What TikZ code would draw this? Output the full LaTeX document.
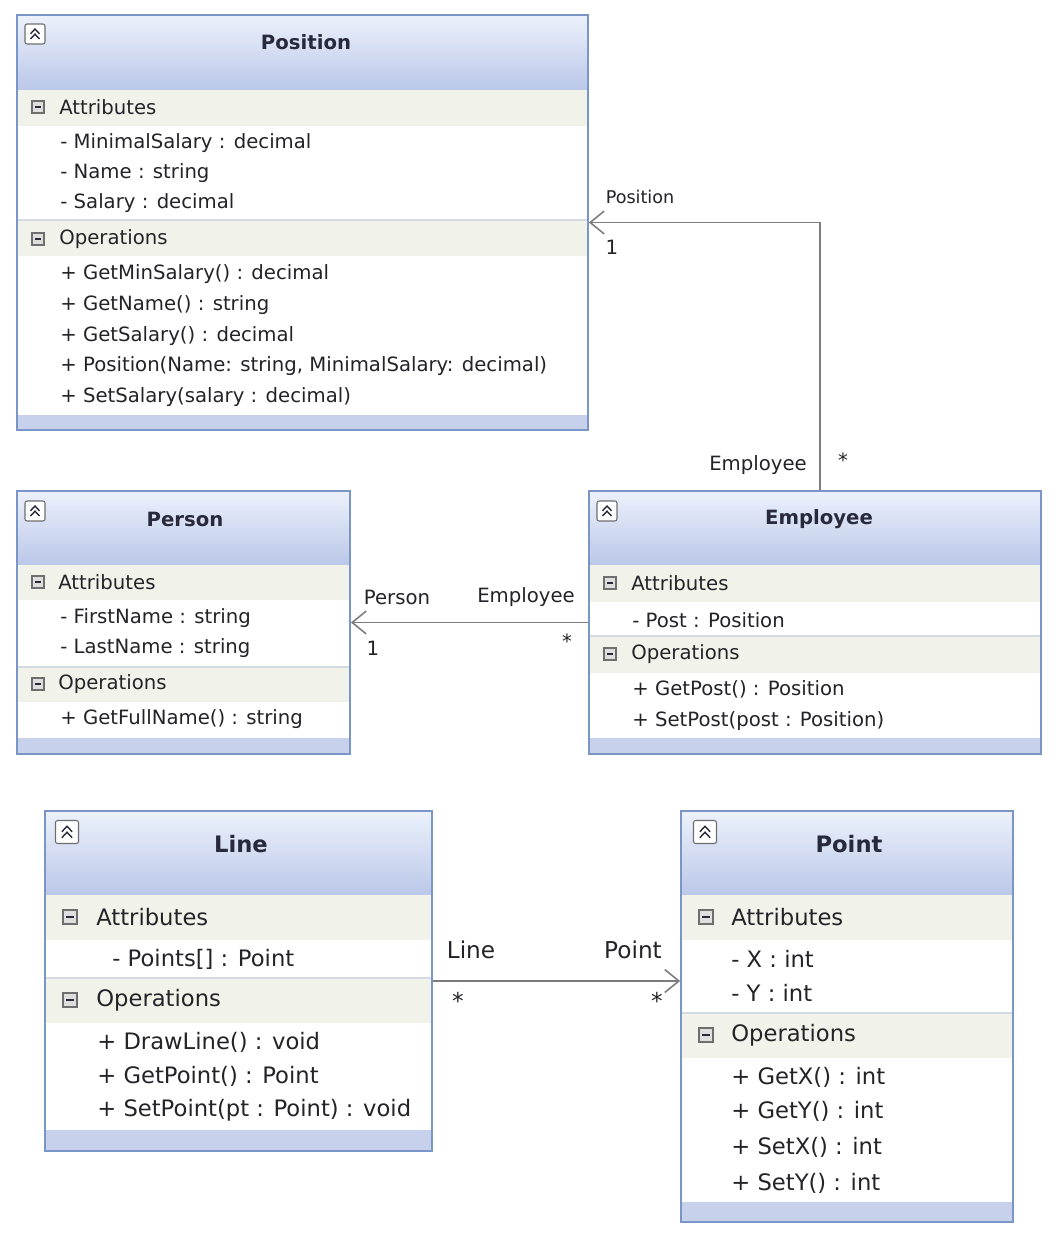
\documentclass[tikz,border=0pt]{standalone}
\usepackage{fontspec}
\setmainfont{DejaVu Sans}
\usetikzlibrary{fit,arrows.meta}

\definecolor{umlBorderColor}{RGB}{122,150,198}
\definecolor{umlHeadTopColor}{RGB}{236,241,251}
\definecolor{umlHeadBotColor}{RGB}{186,199,232}
\definecolor{umlBandColor}{RGB}{241,243,235}
\definecolor{umlFootColor}{RGB}{199,209,236}
\definecolor{umlSepColor}{RGB}{212,218,226}
\definecolor{umlTextColor}{RGB}{35,35,40}
\definecolor{umlTitleColor}{RGB}{40,42,60}
\definecolor{umlLinkColor}{RGB}{125,125,125}
\definecolor{umlIconColor}{RGB}{110,110,110}
\definecolor{umlIconFillColor}{RGB}{222,222,222}

% frame of a class: id, x1, y1, x2, y2, separator y, header, band and footer heights
\newcommand\classframe[9]{%
    \fill[top color=umlHeadTopColor, bottom color=umlHeadBotColor] (#2,#3) rectangle (#4,#3+#7);
    \fill[umlBandColor] (#2,#3+#7) rectangle (#4,#3+#7+#8);
    \fill[umlBandColor] (#2,#6) rectangle (#4,#6+#8);
    \draw[umlSepColor, line width=0.8pt] (#2,#6) -- (#4,#6);
    \fill[umlFootColor] (#2,#5-#9) rectangle (#4,#5);
    \node[classbox, fit={(#2,#3) (#4,#5)}] (#1) {};
}
% collapse button: x, y, half size
\newcommand\collapseicon[3]{%
    \draw[umlIconColor, fill=white, rounded corners=1.2pt, line width=0.6pt] (#1-#3,#2-#3) rectangle (#1+#3,#2+#3);
    \draw[umlTitleColor, line width=0.8pt] (#1-0.45*#3,#2-0.02*#3) -- (#1,#2-0.5*#3) -- (#1+0.45*#3,#2-0.02*#3);
    \draw[umlTitleColor, line width=0.8pt] (#1-0.45*#3,#2+0.5*#3) -- (#1,#2+0.02*#3) -- (#1+0.45*#3,#2+0.5*#3);
}
% section toggle: x, y, half size
\newcommand\minusicon[3]{%
    \draw[umlIconColor, fill=umlIconFillColor, line width=0.6pt] (#1-#3,#2-#3) rectangle (#1+#3,#2+#3);
    \draw[umlTitleColor, line width=0.9pt] (#1-0.55*#3,#2) -- (#1+0.55*#3,#2);
}

\begin{document}
\begin{tikzpicture}[x=0.02cm, y=-0.02cm]
    \tikzset{classbox/.style={draw=umlBorderColor, line width=1pt, inner sep=0pt},
             memberline/.style={anchor=west, inner sep=0pt, text=umlTextColor, font=\fontsize{11.2}{13}\selectfont},
             bigmemberline/.style={memberline, font=\fontsize{12.9}{15}\selectfont},
             classtitle/.style={inner sep=0pt, text=umlTitleColor, font=\bfseries\fontsize{11.2}{13}\selectfont},
             bigclasstitle/.style={classtitle, font=\bfseries\fontsize{12.9}{15}\selectfont},
             linklabel/.style={inner sep=0pt, text=umlTextColor, font=\fontsize{11.2}{13}\selectfont},
             biglinklabel/.style={linklabel, font=\fontsize{13.2}{15}\selectfont},
             assoc/.style={draw=umlLinkColor, line width=0.9pt, -{Straight Barb[length=8pt, width=13pt]}}}

    \fill[white] (0,0) rectangle (1058,1240);
    \useasboundingbox (0,0) rectangle (1058,1240);

    % Position
    \classframe{position}{17}{15}{588}{430}{220}{75}{36}{15}
    \collapseicon{35}{34}{10}
    \minusicon{38}{107}{6}
    \minusicon{38}{239}{6}
    \node[classtitle] (positionTitle) at (306,42) {Position};
    \node[memberline] (positionAttr) at (59,107) {Attributes};
    \node[memberline] (positionA1) at (60,143) {- MinimalSalary : decimal};
    \node[memberline] (positionA2) at (60,173) {- Name : string};
    \node[memberline] (positionA3) at (60,203) {- Salary : decimal};
    \node[memberline] (positionOps) at (59,239) {Operations};
    \node[memberline] (positionO1) at (60,274) {+ GetMinSalary() : decimal};
    \node[memberline] (positionO2) at (60,305) {+ GetName() : string};
    \node[memberline] (positionO3) at (60,336) {+ GetSalary() : decimal};
    \node[memberline] (positionO4) at (60,366) {+ Position(Name: string, MinimalSalary: decimal)};
    \node[memberline] (positionO5) at (60,397) {+ SetSalary(salary : decimal)};

    % Person
    \classframe{person}{17}{491}{350}{754}{667}{74}{35}{16}
    \collapseicon{35}{511}{10}
    \minusicon{38}{582}{6}
    \minusicon{38}{684}{6}
    \node[classtitle] (personTitle) at (185,519) {Person};
    \node[memberline] (personAttr) at (58,582) {Attributes};
    \node[memberline] (personA1) at (60,618) {- FirstName : string};
    \node[memberline] (personA2) at (60,648) {- LastName : string};
    \node[memberline] (personOps) at (58,684) {Operations};
    \node[memberline] (personO1) at (60,719) {+ GetFullName() : string};

    % Employee
    \classframe{employee}{589}{491}{1041}{754}{636}{74}{37}{16}
    \collapseicon{607}{511}{10}
    \minusicon{610}{583}{6}
    \minusicon{610}{654}{6}
    \node[classtitle] (employeeTitle) at (819,519) {Employee};
    \node[memberline] (employeeAttr) at (631,583) {Attributes};
    \node[memberline] (employeeA1) at (632,620) {- Post : Position};
    \node[memberline] (employeeOps) at (631,654) {Operations};
    \node[memberline] (employeeO1) at (632,689) {+ GetPost() : Position};
    \node[memberline] (employeeO2) at (632,721) {+ SetPost(post : Position)};

    % Line
    \classframe{line}{45}{811}{432}{1151}{978}{84}{45}{21}
    \collapseicon{67}{832}{11.5}
    \minusicon{70}{917}{7}
    \minusicon{70}{1000}{7}
    \node[bigclasstitle] (lineTitle) at (241,844) {Line};
    \node[bigmemberline] (lineAttr) at (96,917) {Attributes};
    \node[bigmemberline] (lineA1) at (112,959) {- Points[] : Point};
    \node[bigmemberline] (lineOps) at (96,1000) {Operations};
    \node[bigmemberline] (lineO1) at (97,1042) {+ DrawLine() : void};
    \node[bigmemberline] (lineO2) at (97,1076) {+ GetPoint() : Point};
    \node[bigmemberline] (lineO3) at (97,1110) {+ SetPoint(pt : Point) : void};

    % Point
    \classframe{point}{681}{811}{1013}{1222}{1013}{84}{45}{20}
    \collapseicon{705}{832}{11.5}
    \minusicon{706}{917}{7}
    \minusicon{706}{1035}{7}
    \node[bigclasstitle] (pointTitle) at (849,844) {Point};
    \node[bigmemberline] (pointAttr) at (731,917) {Attributes};
    \node[bigmemberline] (pointA1) at (731,959) {- X : int};
    \node[bigmemberline] (pointA2) at (731,993) {- Y : int};
    \node[bigmemberline] (pointOps) at (731,1035) {Operations};
    \node[bigmemberline] (pointO1) at (731,1077) {+ GetX() : int};
    \node[bigmemberline] (pointO2) at (731,1111) {+ GetY() : int};
    \node[bigmemberline] (pointO3) at (731,1147) {+ SetX() : int};
    \node[bigmemberline] (pointO4) at (731,1183) {+ SetY() : int};

    % associations
    \draw[assoc] ([xshift=0.1cm]employee.north) |- (position.east);
    \draw[assoc] (employee.west) -- (person.east);
    \draw[assoc] (line.east) -- (line.east -| point.west);

    \node[linklabel, font=\fontsize{10}{12}\selectfont] (lblPosition) at (640,197) {Position};
    \node[linklabel] (lblPositionOne) at (612,247) {1};
    \node[linklabel] (lblEmployeeUp) at (758,465) {Employee};
    \node[linklabel] (lblEmployeeUpMany) at (843,460) {*};
    \node[linklabel] (lblPerson) at (397,597) {Person};
    \node[linklabel] (lblPersonOne) at (373,648) {1};
    \node[linklabel] (lblEmployee) at (526,597) {Employee};
    \node[linklabel] (lblEmployeeMany) at (567,641) {*};
    \node[biglinklabel] (lblLine) at (471,950) {Line};
    \node[biglinklabel] (lblLineMany) at (458,1001) {*};
    \node[biglinklabel] (lblPoint) at (633,950) {Point};
    \node[biglinklabel] (lblPointMany) at (657,1001) {*};
\end{tikzpicture}
\end{document}
